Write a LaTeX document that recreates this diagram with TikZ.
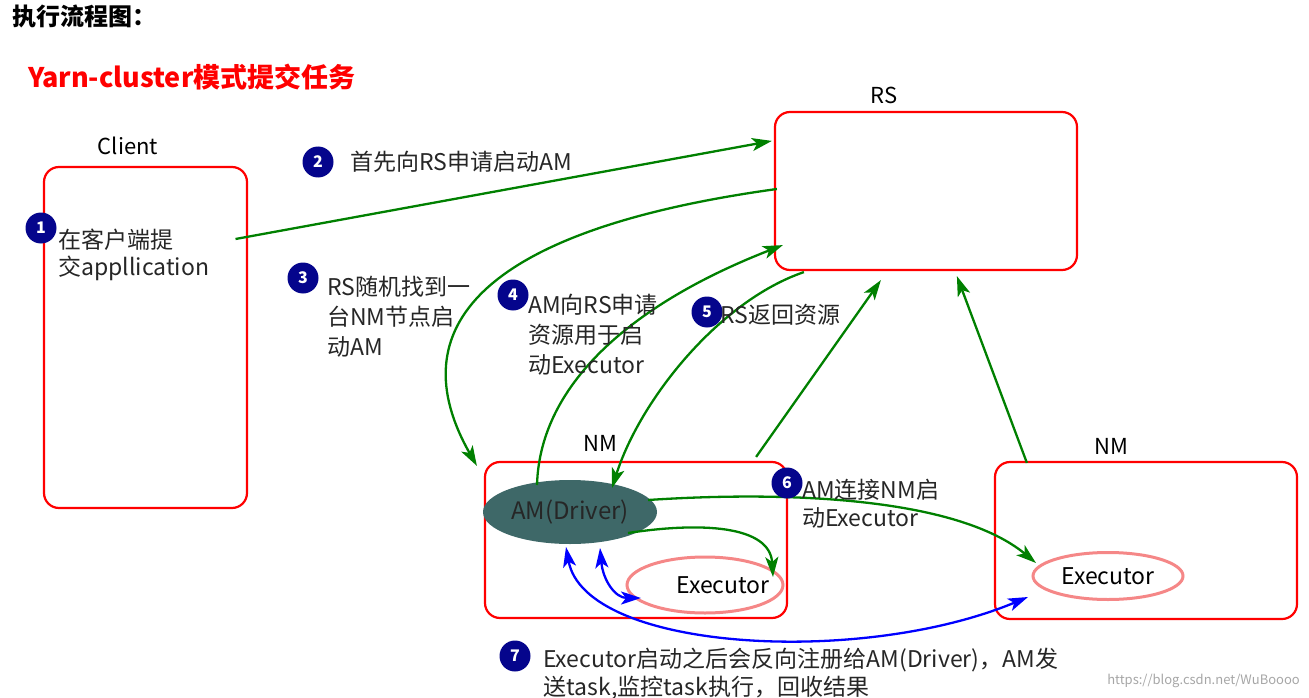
\documentclass[tikz,border=0pt]{standalone}
\usepackage{fontspec}
\setmainfont{Noto Sans CJK SC}
\usetikzlibrary{arrows.meta,shapes.geometric,calc}
\definecolor{ggreen}{RGB}{0,128,0}
\definecolor{bblue}{RGB}{0,0,255}
\definecolor{navyc}{RGB}{5,5,140}
\definecolor{amfill}{RGB}{62,104,104}
\definecolor{pinkc}{RGB}{245,135,135}
\begin{document}
\begin{tikzpicture}[x=1pt,y=-1pt,
  box/.style={draw=red, line width=2.2pt, rounded corners=15pt, inner sep=0},
  ttl/.style={font=\fontsize{22}{22}\selectfont, inner sep=0},
  num/.style={circle, fill=navyc, text=white, inner sep=0, minimum size=31pt, font=\bfseries\fontsize{16}{16}\selectfont},
  lbl/.style={anchor=base west, align=left, inner sep=0, text=black!85},
  garrow/.style={draw=ggreen, line width=2.3pt, -{Stealth[length=20pt,width=13pt,inset=5pt]}},
  barrow/.style={draw=bblue, line width=2.3pt, {Stealth[length=20pt,width=13pt,inset=5pt]}-{Stealth[length=20pt,width=13pt,inset=5pt]}},
  execnode/.style={ellipse, draw=pinkc, line width=3pt, inner sep=0, font=\fontsize{23}{23}\selectfont}
]
\useasboundingbox (0,0) rectangle (1309,698);

% titles
\node[anchor=west, inner sep=0, font=\bfseries\fontsize{24}{24}\selectfont] (title) at (12,16) {执行流程图：};
\node[anchor=west, inner sep=0, text=red, font=\bfseries\fontsize{27}{27}\selectfont] (subtitle) at (28,77) {Yarn-cluster模式提交任务};

% boxes
\node[box, minimum width=203pt, minimum height=341pt] (client) at (145.5,337.5) {};
\node[box, minimum width=302pt, minimum height=158pt] (rs) at (926,191) {};
\node[box, minimum width=302pt, minimum height=156pt] (nm1) at (636,540) {};
\node[box, minimum width=302pt, minimum height=157pt] (nm2) at (1146,540.5) {};

\node[ttl] (clientlbl) at (128,146) {Client};
\node[ttl] (rslbl) at (884,95) {RS};
\node[ttl] (nm1lbl) at (600,443) {NM};
\node[ttl] (nm2lbl) at (1111,446) {NM};

% ellipses
\node[ellipse, fill=amfill, inner sep=0, minimum width=174pt, minimum height=64pt, text=black!85, font=\fontsize{24}{24}\selectfont] (am) at (570,512) {AM(Driver)};
\node[execnode, minimum width=156pt, minimum height=56pt] (ex1) at (705,585) {\makebox[20pt]{\hspace*{36pt}Executor}};
\node[execnode, minimum width=150pt, minimum height=47pt] (ex2) at (1108,576) {Executor};

% connectors
\draw[garrow] ($(client.center)+(90,-98.5)$) -- ($(rs.north west)+(-2,30)$);
\draw[garrow] ($(rs.west)+(3,-2)$) .. controls +(-298,41) and +(-78,-137) .. ($(nm1.north west)+(-7,5)$);
\draw[garrow] ($(am.center)+(-33,-27)$) .. controls +(3,-105) and +(-144,56) .. ($(rs.south west)+(9,-26)$);
\draw[garrow] ($(rs.south west)+(30,1)$) .. controls +(-85,29) and +(28,-88) .. ($(am.center)+(42,-24)$);
\draw[garrow] ($(nm1.north east)+(-32,-4)$) -- ($(rs.south west)+(107,9)$);
\draw[garrow] ($(nm2.north west)+(33,2)$) -- ($(rs.south west)+(183,5)$);
\draw[garrow] ($(am.center)+(78,-12)$) .. controls +(152,-10) and +(-76,-63) .. ($(ex2.center)+(-72,-13)$);
\draw[garrow] ($(am.center)+(58,21)$) .. controls +(72,-11) and +(-3,-52) .. ($(ex1.center)+(68,-8)$);
\draw[barrow] ($(am.center)+(30,36)$) .. controls +(3,32) and +(-26,0) .. ($(ex1.center)+(-64,13)$);
\draw[barrow] ($(am.center)+(-4,35)$) .. controls +(19,104) and +(-168,70) .. ($(ex2.center)+(-80,21)$);

% numbered labels
\node[num] (n1) at (41,228) {1};
\node[lbl, font=\fontsize{23}{27}\selectfont] (t1) at (58,275) {在客户端提\\交appllication};
\node[num] (n2) at (318,162) {2};
\node[lbl, font=\fontsize{23}{30}\selectfont] (t2) at (350,171) {首先向RS申请启动AM};
\node[num] (n3) at (303,278) {3};
\node[lbl, font=\fontsize{23}{30}\selectfont] (t3) at (327,355) {RS随机找到一\\台NM节点启\\动AM};
\node[num] (n4) at (513,295) {4};
\node[lbl, font=\fontsize{23}{30}\selectfont] (t4) at (528,373) {AM向RS申请\\资源用于启\\动Executor};
\node[num] (n5) at (707,312) {5};
\node[lbl, font=\fontsize{23}{30}\selectfont] (t5) at (720,323) {RS返回资源};
\node[num] (n6) at (787,483) {6};
\node[lbl, font=\fontsize{23}{28}\selectfont] (t6) at (802,526) {AM连接NM启\\动Executor};
\node[num] (n7) at (515,656) {7};
\node[lbl, font=\fontsize{23}{28}\selectfont] (t7) at (543,695) {Executor启动之后会反向注册给AM(Driver)，AM发\\送task,监控task执行，回收结果};

% watermark
\node[anchor=east, inner sep=0, text=black!35, font=\fontsize{13}{13}\selectfont] (wm) at (1300,681) {https://blog.csdn.net/WuBoooo};
\end{tikzpicture}
\end{document}
